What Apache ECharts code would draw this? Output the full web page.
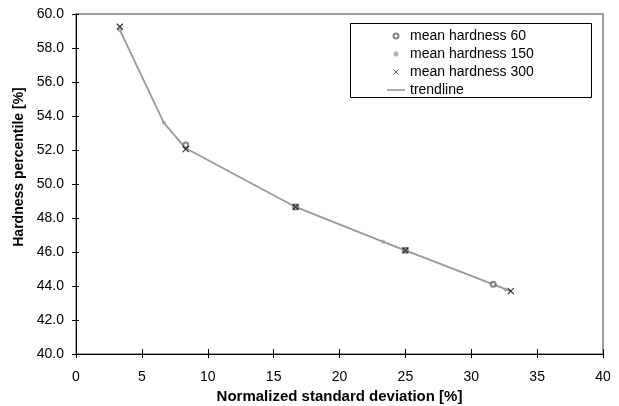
<!DOCTYPE html>
<html>
<head>
<meta charset="utf-8">
<script src="https://cdn.jsdelivr.net/npm/echarts@6/dist/echarts.min.js"></script>
<style>
  html, body { margin: 0; padding: 0; background: #fff; }
  #chart { width: 619px; height: 406px; }
</style>
</head>
<body>
<div id="chart"></div>
<script>
// Hardness percentile vs normalized standard deviation, per mean hardness
const hardness60 = [[8.33, 52.3], [16.67, 48.65], [25.0, 46.1], [31.67, 44.1]];
const hardness150 = [[3.33, 59.05], [6.67, 53.6], [16.67, 48.65], [23.33, 46.6], [32.6, 43.8]];
const hardness300 = [[3.33, 59.25], [8.33, 52.05], [16.67, 48.65], [25.0, 46.1], [33.0, 43.7]];
const trendline = [[3.33, 59.05], [6.67, 53.6], [8.33, 52.1], [16.67, 48.65], [23.33, 46.6], [25.0, 46.1], [31.67, 44.1], [33.0, 43.7]];

const xTicks = { min: 0, max: 40, interval: 5 };
const yTicks = { min: 40, max: 60, interval: 2 };

const FONT = '"Liberation Sans", Arial, sans-serif';
const CROSS = 'path://M0,0L10,10M10,0L0,10';
const BAR = 'path://M0,0L18,0L18,1.6L0,1.6Z';

const chart = echarts.init(document.getElementById('chart'), null, { renderer: 'canvas' });

const baseX = {
  type: 'value', min: xTicks.min, max: xTicks.max, interval: xTicks.interval,
  splitLine: { show: false }
};
const baseY = {
  type: 'value', min: yTicks.min, max: yTicks.max, interval: yTicks.interval,
  splitLine: { show: false }
};

chart.setOption({
  animation: false,
  backgroundColor: '#fff',
  textStyle: { fontFamily: FONT },
  grid: {
    left: 76, right: 16, top: 14, bottom: 52,
    outerBoundsMode: 'none', containLabel: false,
    show: true, borderColor: '#808080', borderWidth: 1.5, backgroundColor: 'transparent'
  },
  xAxis: [
    Object.assign({}, baseX, {
      position: 'bottom',
      name: 'Normalized standard deviation [%]',
      nameLocation: 'middle', nameGap: 26,
      nameTextStyle: { fontFamily: FONT, fontSize: 15, fontWeight: 'bold', color: '#000' },
      axisLine: { show: true, onZero: false, lineStyle: { color: '#000', width: 1 } },
      axisTick: { show: true, inside: false, length: 4, lineStyle: { color: '#000' } },
      axisLabel: { fontFamily: FONT, fontSize: 14, color: '#000', margin: 16 }
    }),
    Object.assign({}, baseX, {
      position: 'bottom',
      axisLine: { show: false },
      axisTick: { show: true, inside: true, length: 5, lineStyle: { color: '#000' } },
      axisLabel: { show: false }
    })
  ],
  yAxis: [
    Object.assign({}, baseY, {
      position: 'left',
      name: 'Hardness percentile [%]',
      nameLocation: 'middle', nameGap: 40, nameRotate: 90,
      nameTextStyle: { fontFamily: FONT, fontSize: 14, fontWeight: 'bold', color: '#000', padding: [0, 0, 0, 34] },
      axisLine: { show: true, onZero: false, lineStyle: { color: '#000', width: 1 } },
      axisTick: { show: true, inside: false, length: 4, lineStyle: { color: '#000' } },
      axisLabel: {
        fontFamily: FONT, fontSize: 14, color: '#000', margin: 12,
        formatter: v => v.toFixed(1)
      }
    }),
    Object.assign({}, baseY, {
      position: 'left',
      axisLine: { show: false },
      axisTick: { show: true, inside: true, length: 3, lineStyle: { color: '#000' } },
      axisLabel: { show: false }
    })
  ],
  graphic: [{
    type: 'rect', z: 5,
    shape: { x: 350.5, y: 23.5, width: 241, height: 74 },
    style: { fill: '#fff', stroke: '#000', lineWidth: 1 }
  }],
  legend: {
    z: 10,
    orient: 'vertical',
    left: 387, top: 29,
    padding: 0,
    itemWidth: 18, itemHeight: 5, itemGap: 4,
    textStyle: { fontFamily: FONT, fontSize: 14, color: '#000', lineHeight: 14 },
    data: [
      { name: 'mean hardness 60', icon: 'emptyCircle' },
      { name: 'mean hardness 150', icon: 'circle' },
      { name: 'mean hardness 300', icon: CROSS, itemStyle: { borderWidth: 0.8 } },
      { name: 'trendline', icon: BAR }
    ]
  },
  series: [
    {
      name: 'trendline', type: 'line', data: trendline,
      symbol: 'none', z: 1,
      lineStyle: { color: '#999', width: 1.8 },
      itemStyle: { color: '#999' }
    },
    {
      name: 'mean hardness 150', type: 'scatter', data: hardness150,
      symbol: 'circle', symbolSize: 4, z: 2,
      itemStyle: { color: '#a0a0a0' }
    },
    {
      name: 'mean hardness 60', type: 'scatter', data: hardness60,
      symbol: 'emptyCircle', symbolSize: 5, z: 3,
      itemStyle: { color: '#666', borderWidth: 1 }
    },
    {
      name: 'mean hardness 300', type: 'scatter', data: hardness300,
      symbol: CROSS, symbolSize: 6, z: 4,
      itemStyle: { color: '#000', borderColor: '#000', borderWidth: 1.2 }
    }
  ]
});
</script>
</body>
</html>
